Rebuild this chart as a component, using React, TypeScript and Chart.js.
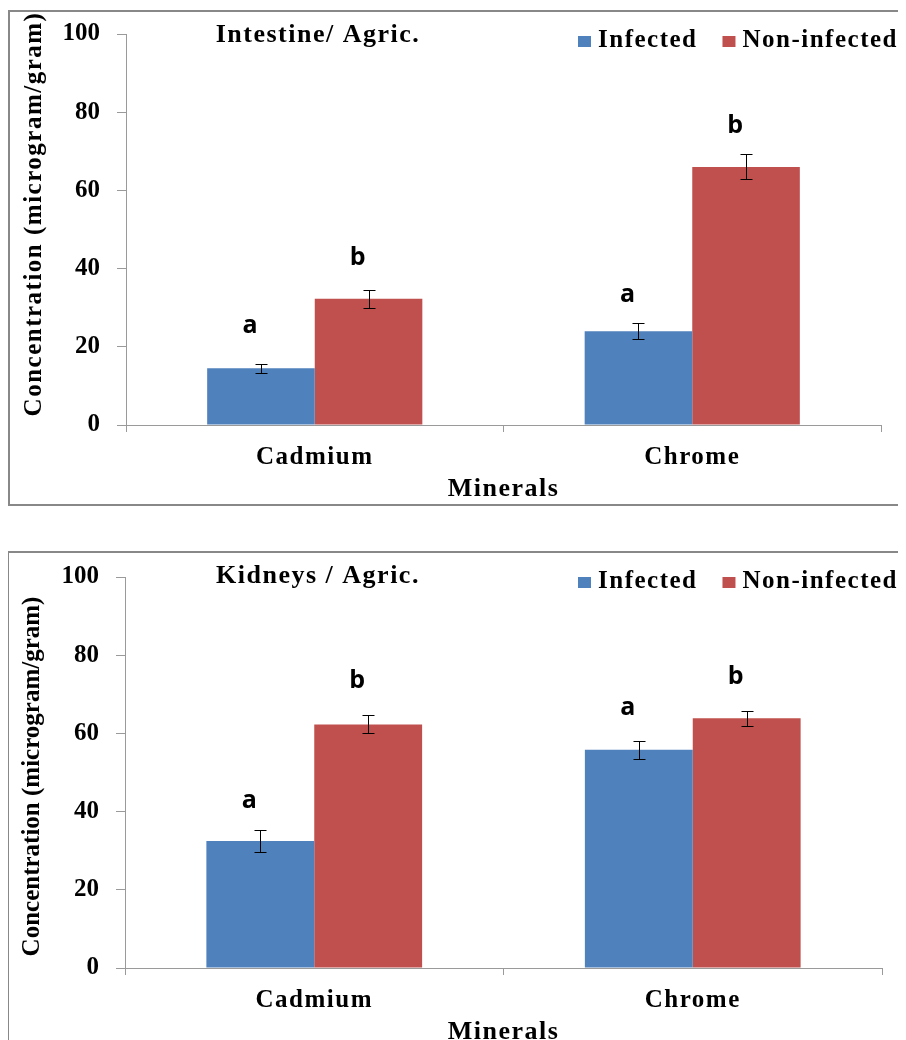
import React, { useEffect, useRef } from "react";
import { Chart, registerables } from "chart.js";

Chart.register(...registerables);

// ---------- data ----------
const categories = ["Cadmium", "Chrome"];
const seriesNames = ["Infected", "Non-infected"];
const seriesColors = ["#4F81BD", "#C0504D"];
const yTickValues = [0, 20, 40, 60, 80, 100];

const intestineInfected = [14.5, 24.0];
const intestineNonInfected = [32.3, 66.0];
const intestineInfectedErr = [1.2, 2.05];
const intestineNonInfectedErr = [2.25, 3.2];
const intestineInfectedLetters = ["a", "a"];
const intestineNonInfectedLetters = ["b", "b"];
const intestineInfectedLetterLevel = [23.6, 31.4];
const intestineNonInfectedLetterLevel = [41.0, 74.8];

const kidneysInfected = [32.5, 55.8];
const kidneysNonInfected = [62.3, 63.9];
const kidneysInfectedErr = [2.9, 2.25];
const kidneysNonInfectedErr = [2.3, 1.9];
const kidneysInfectedLetters = ["a", "a"];
const kidneysNonInfectedLetters = ["b", "b"];
const kidneysInfectedLetterLevel = [40.8, 64.6];
const kidneysNonInfectedLetterLevel = [71.5, 72.6];

const yTitle = "Concentration (microgram/gram)";
const xTitle = "Minerals";

// ---------- styling ----------
const SERIF = '"Liberation Serif", "Times New Roman", serif';
const SANS = '"Open Sans", "Noto Sans", sans-serif';
const AXIS = "#9a9a9a";
const BOX = "#888888";
const CANVAS_W = 898;

type Panel = {
  title: string;
  values: number[][];
  errors: number[][];
  letters: string[][];
  letterLevels: number[][];
  top: number;
  canvasH: number;
  padTop: number;
  padRight: number;
  axisW: number;
  xAxisH: number;
  yTitleX: number;
  yTitleY: number;
  yTitleSpacing: string;
};

const panels: Panel[] = [
  {
    title: "Intestine/ Agric.",
    values: [intestineInfected, intestineNonInfected],
    errors: [intestineInfectedErr, intestineNonInfectedErr],
    letters: [intestineInfectedLetters, intestineNonInfectedLetters],
    letterLevels: [intestineInfectedLetterLevel, intestineNonInfectedLetterLevel],
    top: 3,
    canvasH: 494,
    padTop: 23,
    padRight: 25,
    axisW: 118,
    xAxisH: 80,
    yTitleX: 27,
    yTitleY: 203,
    yTitleSpacing: "1.5px",
  },
  {
    title: "Kidneys / Agric.",
    values: [kidneysInfected, kidneysNonInfected],
    errors: [kidneysInfectedErr, kidneysNonInfectedErr],
    letters: [kidneysInfectedLetters, kidneysNonInfectedLetters],
    letterLevels: [kidneysInfectedLetterLevel, kidneysNonInfectedLetterLevel],
    top: 544,
    canvasH: 488,
    padTop: 25,
    padRight: 24,
    axisW: 117,
    xAxisH: 72,
    yTitleX: 24.5,
    yTitleY: 224.5,
    yTitleSpacing: "0px",
  },
];

function makePlugin(p: Panel) {
  return {
    id: "annotations",
    afterDatasetsDraw(chart: any) {
      const ctx: CanvasRenderingContext2D = chart.ctx;
      const ys = chart.scales.y;
      ctx.save();
      // error bars
      ctx.strokeStyle = "#000";
      ctx.lineWidth = 1;
      p.errors.forEach((errs, di) => {
        const meta = chart.getDatasetMeta(di);
        meta.data.forEach((bar: any, j: number) => {
          const v = p.values[di][j];
          const e = errs[j];
          const x = Math.round(bar.x) + 0.5;
          const yt = Math.round(ys.getPixelForValue(v + e)) + 0.5;
          const yb = Math.round(ys.getPixelForValue(v - e)) + 0.5;
          ctx.beginPath();
          ctx.moveTo(x, yt);
          ctx.lineTo(x, yb);
          ctx.moveTo(x - 6, yt);
          ctx.lineTo(x + 6, yt);
          ctx.moveTo(x - 6, yb);
          ctx.lineTo(x + 6, yb);
          ctx.stroke();
        });
      });
      // significance letters
      ctx.fillStyle = "#000";
      ctx.font = `bold 25px ${SANS}`;
      ctx.textAlign = "center";
      ctx.textBaseline = "alphabetic";
      p.letters.forEach((lets, di) => {
        const meta = chart.getDatasetMeta(di);
        meta.data.forEach((bar: any, j: number) => {
          ctx.fillText(lets[j], bar.x - 11, ys.getPixelForValue(p.letterLevels[di][j]));
        });
      });
      ctx.restore();
    },
    afterDraw(chart: any) {
      const ctx: CanvasRenderingContext2D = chart.ctx;
      const area = chart.chartArea;
      const xs = chart.scales.x;
      ctx.save();
      ctx.fillStyle = "#000";
      (ctx as any).letterSpacing = "1.5px";
      // title
      ctx.font = `bold 26px ${SERIF}`;
      ctx.textAlign = "center";
      ctx.textBaseline = "alphabetic";
      ctx.fillText(p.title, 310, 30.5);
      // legend
      ctx.font = `bold 25px ${SERIF}`;
      ctx.textAlign = "left";
      let lx = 570;
      const base = 36;
      seriesNames.forEach((name, i) => {
        ctx.fillStyle = seriesColors[i];
        ctx.fillRect(lx, base - 11, 13, 11);
        ctx.fillStyle = "#000";
        ctx.fillText(name, lx + 20, base);
        lx += 20 + ctx.measureText(name).width + 25;
      });
      // category labels
      ctx.font = `bold 25px ${SERIF}`;
      ctx.textAlign = "center";
      categories.forEach((c, i) => {
        ctx.fillText(c, xs.getPixelForValue(i), area.bottom + 38.5);
      });
      // x title
      ctx.font = `bold 26px ${SERIF}`;
      ctx.fillText(xTitle, (area.left + area.right) / 2, area.bottom + 71);
      // y title
      (ctx as any).letterSpacing = p.yTitleSpacing;
      ctx.font = `bold 25px ${SERIF}`;
      ctx.translate(p.yTitleX, p.yTitleY);
      ctx.rotate(-Math.PI / 2);
      ctx.textBaseline = "middle";
      ctx.fillText(yTitle, 0, 0);
      ctx.restore();
    },
  };
}

function BarPanel({ p }: { p: Panel }) {
  const ref = useRef<HTMLCanvasElement>(null);
  useEffect(() => {
    const chart = new Chart(ref.current as HTMLCanvasElement, {
      type: "bar",
      data: {
        labels: categories,
        datasets: seriesNames.map((name, i) => ({
          label: name,
          data: p.values[i],
          backgroundColor: seriesColors[i],
          borderWidth: 0,
          categoryPercentage: 0.57,
          barPercentage: 1.0,
        })),
      },
      options: {
        animation: false,
        responsive: false,
        devicePixelRatio: 1,
        layout: { padding: { left: 0, right: p.padRight, top: p.padTop, bottom: 0 } },
        plugins: {
          legend: { display: false },
          title: { display: false },
          tooltip: { enabled: false },
        },
        scales: {
          x: {
            offset: true,
            ticks: { display: false },
            grid: {
              offset: true,
              drawOnChartArea: false,
              drawTicks: true,
              tickLength: 7,
              color: AXIS,
            },
            border: { display: true, color: AXIS, width: 1 },
            afterFit: (s: any) => {
              s.height = p.xAxisH;
              s.paddingLeft = 0;
              s.paddingRight = 0;
            },
          },
          y: {
            min: 0,
            max: 100,
            afterBuildTicks: (s: any) => {
              s.ticks = yTickValues.map((v) => ({ value: v }));
            },
            ticks: {
              color: "#000",
              padding: 17,
              font: { family: SERIF, size: 25, weight: "bold" },
            },
            grid: {
              drawOnChartArea: false,
              drawTicks: true,
              tickLength: 9,
              color: AXIS,
            },
            border: { display: true, color: AXIS, width: 1 },
            afterFit: (s: any) => {
              s.width = p.axisW;
              s.paddingTop = 0;
              s.paddingBottom = 0;
            },
          },
        },
      } as any,
      plugins: [makePlugin(p)],
    });
    return () => chart.destroy();
  }, []);
  return (
    <canvas
      ref={ref}
      width={CANVAS_W}
      height={p.canvasH}
      style={{ position: "absolute", left: 0, top: p.top, width: CANVAS_W, height: p.canvasH }}
    />
  );
}

export default function App() {
  return (
    <div style={{ position: "relative", width: CANVAS_W, height: 1032, overflow: "hidden", background: "#fff" }}>
      <div
        style={{
          position: "absolute",
          left: 0,
          top: 2,
          width: 940,
          height: 496,
          border: `2px solid ${BOX}`,
          boxSizing: "border-box",
          background: "#fff",
        }}
      />
      <div
        style={{
          position: "absolute",
          left: -1,
          top: 543,
          width: 940,
          height: 520,
          border: `2px solid ${BOX}`,
          boxSizing: "border-box",
          background: "#fff",
        }}
      />
      {panels.map((p, i) => (
        <BarPanel key={i} p={p} />
      ))}
    </div>
  );
}
